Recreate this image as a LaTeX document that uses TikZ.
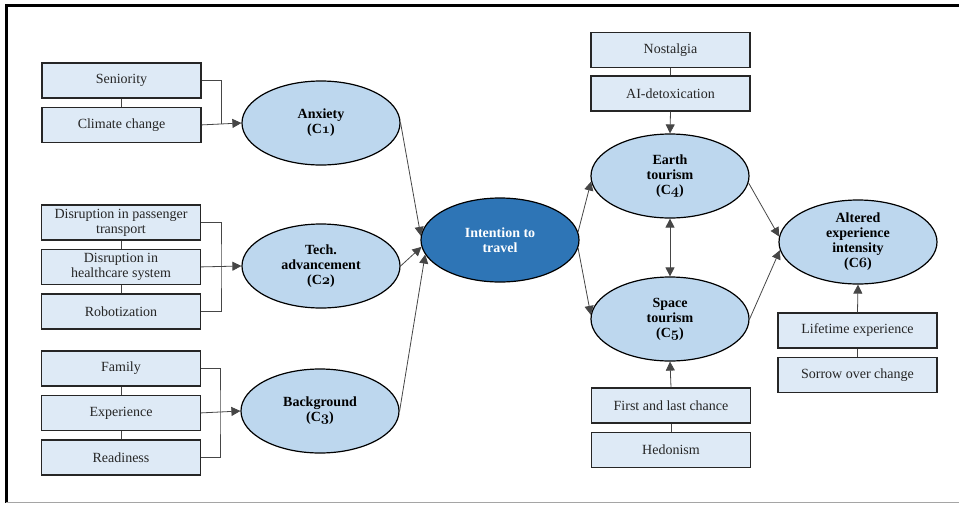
\documentclass[tikz,border=0pt]{standalone}
\usepackage{fontspec}
\setmainfont{Liberation Serif}
\usepackage{tikz}
\usetikzlibrary{shapes.geometric,arrows.meta,positioning}

\definecolor{boxblue}{RGB}{222,234,246}
\definecolor{ovalblue}{RGB}{189,215,238}
\definecolor{coreblue}{RGB}{46,117,182}
\definecolor{edgegrey}{RGB}{38,38,38}
\definecolor{linkgrey}{RGB}{70,70,70}
\definecolor{framegrey}{RGB}{165,165,165}

% old-style digit for the construct labels
\newcommand{\cnum}[1]{{\usefont{OML}{cmm}{b}{it}#1}}

\tikzset{
    factor/.style={draw=edgegrey, line width=1.4pt, fill=boxblue, text=edgegrey,
        minimum width=159pt, minimum height=35pt, inner sep=0pt, align=center,
        font=\fontsize{14}{15}\selectfont},
    construct/.style={ellipse, draw=black, line width=1.2pt, fill=ovalblue,
        minimum width=158pt, minimum height=84pt, inner sep=0pt, align=center,
        font=\bfseries\fontsize{14}{15}\selectfont},
    link/.style={draw=linkgrey, line width=0.8pt},
    flow/.style={link, -{Triangle[length=9pt,width=9pt]}},
}

\begin{document}
\begin{tikzpicture}[x=1pt, y=-1pt]
    \useasboundingbox (0,0) rectangle (959,504);
    % frame
    \draw[line width=3pt] (959,5) -- (6,5) -- (6,503);
    \draw[framegrey, line width=1pt] (6,502) -- (959,502);

    % left side: factors and constructs
    \node[factor] (seniority) at (121.5,80.5) {Seniority};
    \node[factor, below=8pt of seniority] (climate) {Climate change};
    \node[construct] (anxiety) at (321,123) {Anxiety\\(C\cnum{1})};

    \node[factor] (passenger) at (121,222.5) {Disruption in passenger\\transport};
    \node[factor, below=8pt of passenger] (healthcare) {Disruption in\\healthcare system};
    \node[factor, below=8pt of healthcare] (robot) {Robotization};
    \node[construct] (tech) at (321,266) {Tech.\\advancement\\(C\cnum{2})};

    \node[factor] (family) at (121,368.5) {Family};
    \node[factor, below=8pt of family] (experience) {Experience};
    \node[factor, below=8pt of experience] (readiness) {Readiness};
    \node[construct] (background) at (320,411) {Background\\(C\cnum{3})};

    \coordinate (joinA) at (221,123.5);
    \coordinate (joinB) at (221,265.5);
    \coordinate (joinC) at (220,411.5);

    \draw[link] (seniority) -- (climate);
    \draw[link] (passenger) -- (healthcare);
    \draw[link] (healthcare) -- (robot);
    \draw[link] (family) -- (experience);
    \draw[link] (experience) -- (readiness);

    \draw[link] (seniority.east) -| (joinA);
    \draw[flow] (climate.east) -- (anxiety.west);
    \draw[link] (passenger.east) -| (joinB) |- (robot.east);
    \draw[flow] (healthcare.east) -- (tech.west);
    \draw[link] (family.east) -| (joinC) |- (readiness.east);
    \draw[flow] (experience.east) -- (background.west);

    % centre
    \node[construct, fill=coreblue, text=white] (intention) at (500,240) {Intention to\\travel};

    \draw[flow] (anxiety.east) -- (intention.177);
    \draw[flow] (tech.east) -- (intention.185);
    \draw[flow] (background.east) -- (intention.191);

    % right side
    \node[construct] (earth) at (670,176) {Earth\\tourism\\(C\cnum{4})};
    \node[construct] (space) at (670,319) {Space\\tourism\\(C\cnum{5})};
    \node[construct] (altered) at (858,242) {Altered\\experience\\intensity\\(C\cnum{6})};

    \node[factor] (nostalgia) at (670.5,50) {Nostalgia};
    \node[factor, below=7pt of nostalgia] (aidetox) {AI-detoxication};
    \node[factor] (firstlast) at (671,405.5) {First and last chance};
    \node[factor, below=8pt of firstlast] (hedonism) {Hedonism};
    \node[factor] (lifetime) at (857.5,330.5) {Lifetime experience};
    \node[factor, below=8pt of lifetime] (sorrow) {Sorrow over change};

    \draw[link] (nostalgia) -- (aidetox);
    \draw[link] (firstlast) -- (hedonism);
    \draw[link] (lifetime) -- (sorrow);

    \draw[flow] (aidetox.south) -- (earth.north);
    \draw[flow] (firstlast.north) -- (space.south);
    \draw[flow] (lifetime.north) -- (altered.south);
    \draw[link, {Triangle[length=9pt,width=9pt]}-{Triangle[length=9pt,width=9pt]}] (earth.south) -- (space.north);

    \draw[flow] (intention.6) -- (earth.184);
    \draw[flow] (intention.354) -- (space.177);
    \draw[flow] (earth.355) -- (altered.176);
    \draw[flow] (space.east) -- (altered.186);
\end{tikzpicture}
\end{document}
